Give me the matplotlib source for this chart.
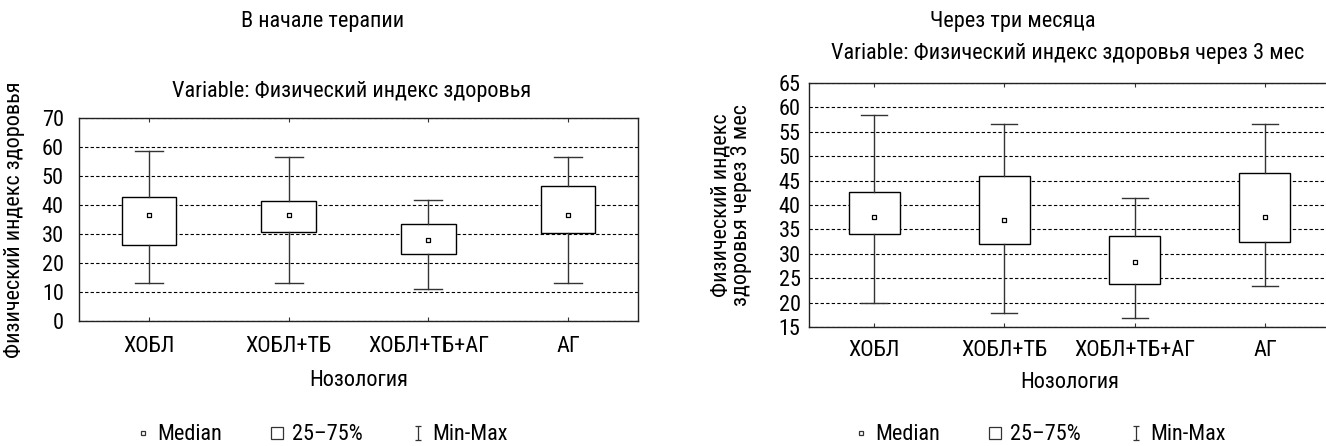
import numpy as np
import matplotlib.pyplot as plt
from matplotlib.lines import Line2D
from matplotlib.path import Path

plt.rcParams['font.family'] = ['Roboto Condensed', 'DejaVu Sans']
plt.rcParams['font.stretch'] = 'condensed'

# data
categories = ['ХОБЛ', 'ХОБЛ+ТБ', 'ХОБЛ+ТБ+АГ', 'АГ']

base_min = [13.1, 13.1, 11.0, 13.1]
base_q1 = [26.3, 30.6, 23.2, 30.2]
base_med = [36.4, 36.4, 27.8, 36.4]
base_q3 = [42.6, 41.3, 33.4, 46.5]
base_max = [58.7, 56.6, 41.6, 56.6]

m3_min = [20.0, 17.8, 16.9, 23.4]
m3_q1 = [34.0, 32.0, 23.9, 32.5]
m3_med = [37.6, 37.0, 28.4, 37.6]
m3_q3 = [42.7, 45.9, 33.6, 46.6]
m3_max = [58.5, 56.5, 41.5, 56.5]

base_ticks = [0, 10, 20, 30, 40, 50, 60, 70]
m3_ticks = [15, 20, 25, 30, 35, 40, 45, 50, 55, 60, 65]

legend_labels = ['Median', '25–75%', 'Min-Max']

FS = 16
W, H = 1326, 446


def px_box(l, t, r, b):
    return [l / W, 1 - b / H, (r - l) / W, (b - t) / H]


def draw(ax, mins, q1s, meds, q3s, maxs, ticks):
    stats = []
    for cat, lo, a, m, b, hi in zip(categories, mins, q1s, meds, q3s, maxs):
        stats.append(dict(label=cat, whislo=lo, q1=a, med=m, q3=b, whishi=hi))
    pos = np.arange(len(categories))
    ax.bxp(stats, positions=pos, widths=0.39, capwidths=0.2,
           showfliers=False, patch_artist=True,
           boxprops=dict(facecolor='white', edgecolor='black', linewidth=1.0),
           whiskerprops=dict(color='#333333', linewidth=1.0),
           capprops=dict(color='#333333', linewidth=1.0),
           medianprops=dict(linestyle='none'))
    ax.scatter(pos, meds, marker='s', s=11, facecolor='white',
               edgecolor='black', linewidth=0.9, zorder=5)
    ax.set_xlim(-0.5, len(categories) - 0.5)
    ax.set_ylim(ticks[0], ticks[-1])
    ax.set_yticks(ticks)
    ax.set_xticks(pos)
    ax.set_xticklabels(categories)
    ax.set_axisbelow(True)
    ax.yaxis.grid(True, linestyle=(0, (3, 2)), color='black', linewidth=0.8)
    ax.tick_params(axis='x', direction='in', top=True, length=3,
                   labelsize=FS, color='#333333')
    ax.tick_params(axis='y', length=0, labelsize=FS)
    for s in ax.spines.values():
        s.set_linewidth(1.0)
        s.set_color('#222222')


fig = plt.figure(figsize=(13.26, 4.46), dpi=100)

axL = fig.add_axes(px_box(79, 118, 638, 321))
draw(axL, base_min, base_q1, base_med, base_q3, base_max, base_ticks)
axL.tick_params(axis='y', pad=11)
axL.tick_params(axis='x', pad=11)
axL.set_xlabel('Нозология', fontsize=FS, labelpad=9)
axL.set_ylabel('Физический индекс здоровья', fontsize=FS, va='center')
axL.yaxis.set_label_coords((15 - 79) / 559, 0.5)

axR = fig.add_axes(px_box(809, 83, 1330, 327))
draw(axR, m3_min, m3_q1, m3_med, m3_q3, m3_max, m3_ticks)
axR.tick_params(axis='y', pad=6)
axR.tick_params(axis='x', pad=9)
axR.set_xlabel('Нозология', fontsize=FS, labelpad=8)
axR.set_ylabel('Физический индекс\nздоровья через 3 мес', fontsize=FS,
               va='center', linespacing=1.0)
axR.yaxis.set_label_coords((731 - 809) / 521, 0.5)

fig.text(323 / W, 1 - 22 / H, 'В начале терапии', fontsize=FS,
         ha='center', va='center')
fig.text(352 / W, 1 - 91 / H, 'Variable: Физический индекс здоровья',
         fontsize=FS, ha='center', va='center')
fig.text(1013 / W, 1 - 21 / H, 'Через три месяца', fontsize=FS,
         ha='center', va='center')
fig.text(1068 / W, 1 - 53 / H, 'Variable: Физический индекс здоровья через 3 мес',
         fontsize=FS, ha='center', va='center')

# legend handles: median point, box, min-max bar
ibeam = Path([(-0.5, 1), (0.5, 1), (0, 1), (0, -1), (-0.5, -1), (0.5, -1)],
             [Path.MOVETO, Path.LINETO, Path.MOVETO, Path.LINETO,
              Path.MOVETO, Path.LINETO])


def legend_handles():
    return [
        Line2D([], [], marker='s', markersize=3.5, mfc='white', mec='#333333',
               mew=0.9, linestyle='none'),
        Line2D([], [], marker='s', markersize=8, mfc='white', mec='#333333',
               mew=0.9, linestyle='none'),
        Line2D([], [], marker=ibeam, markersize=10, color='#333333',
               mew=0.9, linestyle='none'),
    ]


fig.legend(legend_handles(), legend_labels, loc='center',
           bbox_to_anchor=(322 / W, 1 - 435 / H), ncol=3, frameon=False,
           fontsize=FS, handlelength=0.6, handletextpad=0.35, columnspacing=2.2)
fig.legend(legend_handles(), legend_labels, loc='center',
           bbox_to_anchor=(1040 / W, 1 - 435 / H), ncol=3, frameon=False,
           fontsize=FS, handlelength=0.6, handletextpad=0.35, columnspacing=2.2)

fig.savefig('out.png', dpi=100)
